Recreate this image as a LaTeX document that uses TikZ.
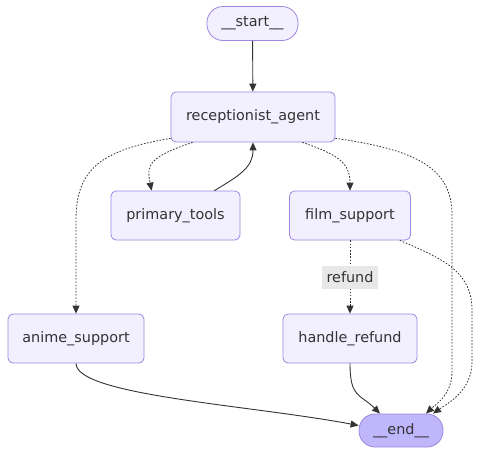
\documentclass[tikz,border=0pt]{standalone}
\usepackage{fontspec}
\setmainfont{DejaVu Sans}
\usepackage{tikz}
\usetikzlibrary{positioning,arrows.meta}

\definecolor{nodefill}{HTML}{F2F0FF}
\definecolor{nodeline}{HTML}{9F85DF}
\definecolor{endfill}{HTML}{BFB6FC}
\definecolor{inkgray}{HTML}{333333}
\definecolor{labelbg}{HTML}{E8E8E8}

\tikzset{
  stepnode/.style={draw=nodeline, fill=nodefill, rounded corners=5pt, line width=0.8pt,
    minimum height=49pt, inner sep=0pt, text=inkgray, font=\fontsize{14.4}{17}\selectfont},
  terminal/.style={stepnode, rounded corners=16pt, minimum height=34pt},
  flow/.style={draw=inkgray, line width=0.9pt, -{Triangle[length=8pt,width=7pt]}},
  branch/.style={flow, line width=0.8pt, dash pattern=on 1.6pt off 1.6pt},
  edgelabel/.style={fill=labelbg, text=inkgray, inner xsep=5pt, minimum height=23pt,
    font=\fontsize{14.4}{17}\selectfont},
}

\begin{document}
\begin{tikzpicture}[x=1pt, y=-1pt]

\useasboundingbox (0,0) rectangle (480,456);

% Nodes
\node[terminal, minimum width=91pt] (start) at (252.5,23.5) {\_\_start\_\_};
\node[stepnode, minimum width=164pt, minimum height=50pt] (recept) at (253,117) {receptionist\_agent};
\node[stepnode, minimum width=129pt] (tools) at (175.5,215.5) {primary\_tools};
\node[stepnode, minimum width=121pt] (film) at (350,215.5) {film\_support};
\node[stepnode, minimum width=136pt] (anime) at (76,338.5) {anime\_support};
\node[stepnode, minimum width=134pt] (refund) at (350,338.5) {handle\_refund};
\node[terminal, fill=endfill, minimum width=84pt, minimum height=33pt] (finish) at (401,430.5) {\_\_end\_\_};

% Solid edges
\draw[flow] (start) -- (recept);
\draw[flow] ([xshift=-26pt]tools.north east) .. controls +(25,-15) and +(0,25) .. (recept.south);
\draw[flow] (refund.south) .. controls +(0,35) and +(-20,-20) .. ([xshift=-21pt]finish.north);
\draw[flow] (anime.south) .. controls +(0,32) and (250,405) .. ([yshift=5pt]finish.west);

% Conditional edges
\draw[branch] ([xshift=22pt]recept.south west) .. controls +(-45,15) and +(-5,-25) .. ([xshift=41pt]tools.north west);
\draw[branch] ([yshift=4pt]recept.south west) .. controls (100,150) and (76,170) .. (76,220) -- (anime.north);
\draw[branch] ([xshift=-33pt]recept.south east) .. controls +(35,12) and +(0,-28) .. (film.north);
\draw[branch] ([yshift=4pt]recept.south east) .. controls (420,150) and (452,170) .. (452,215)
  -- (452,372) .. controls (452,395) and (435,405) .. ([xshift=25pt]finish.north);
\draw[branch] ([xshift=-11pt]film.south east) .. controls (440,258) and (472,270) .. (472,310)
  -- (472,362) .. controls (472,392) and (445,405) .. ([xshift=32pt]finish.north);
\draw[branch] (film) -- node[edgelabel] (cond) {refund} (refund);

\end{tikzpicture}
\end{document}
